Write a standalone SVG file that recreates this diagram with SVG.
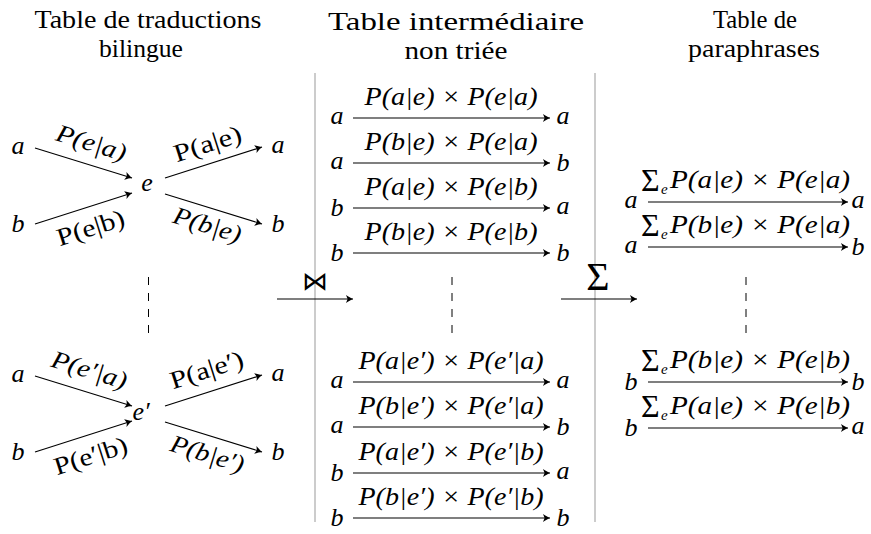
<svg xmlns="http://www.w3.org/2000/svg" width="871" height="534" viewBox="0 0 871 534">
<defs>
<marker id="ah" markerUnits="userSpaceOnUse" markerWidth="12" markerHeight="12" viewBox="-9 -6 12 12" refX="0" refY="0" orient="auto">
<path d="M0,0 C-2,-0.8 -4.5,-2.3 -7,-4 L-5.4,0 L-7,4 C-4.5,2.3 -2,0.8 0,0 Z" fill="#000"/>
</marker>
<style>
.t{font-family:"Liberation Serif",serif;font-size:26px;fill:#000;text-anchor:middle}
.m{font-family:"Liberation Serif","DejaVu Serif",serif;font-size:25px;font-style:italic;fill:#000}
.u{font-family:"Liberation Serif","DejaVu Serif",serif;font-size:25px;font-style:normal;fill:#000}
.n{font-family:"Liberation Serif",serif;font-size:26px;font-style:italic;fill:#000;text-anchor:middle}
.c{text-anchor:middle}
.ln{stroke:#000;stroke-width:1.1;fill:none;marker-end:url(#ah)}
.gr{stroke:#aaa;stroke-width:1.2}
.da{stroke:#000;stroke-width:1;stroke-dasharray:8 8}
.sg{font-family:"Liberation Serif",serif;font-size:32px;fill:#000}
.sb{font-family:"Liberation Serif",serif;font-size:15px;font-style:italic;fill:#000}
</style>
</defs>
<rect width="871" height="534" fill="#fff"/>

<g id="titles">
<text class="t" x="148" y="28" textLength="227" lengthAdjust="spacingAndGlyphs">Table de traductions</text>
<text class="t" x="141" y="57" textLength="84" lengthAdjust="spacingAndGlyphs">bilingue</text>
<text class="t" x="456" y="30" textLength="256" lengthAdjust="spacingAndGlyphs">Table intermédiaire</text>
<text class="t" x="456" y="59" textLength="103" lengthAdjust="spacingAndGlyphs">non triée</text>
<text class="t" x="755" y="28" textLength="84" lengthAdjust="spacingAndGlyphs">Table de</text>
<text class="t" x="754" y="57" textLength="132" lengthAdjust="spacingAndGlyphs">paraphrases</text>
</g>

<g id="separators">
<line class="gr" x1="315" y1="73" x2="315" y2="522"/>
<line class="gr" x1="595" y1="73" x2="595" y2="522"/>
<line class="da" x1="148.5" y1="277" x2="148.5" y2="335"/>
<line class="da" x1="452" y1="277" x2="452" y2="335"/>
<line class="da" x1="746" y1="277" x2="746" y2="335"/>
</g>

<g id="connectors">
<line class="ln" x1="35" y1="148" x2="132" y2="178"/>
<line class="ln" x1="35" y1="224" x2="132" y2="193"/>
<line class="ln" x1="165" y1="178" x2="262" y2="147"/>
<line class="ln" x1="165" y1="194" x2="262" y2="224"/>
<line class="ln" x1="35" y1="376" x2="132" y2="406"/>
<line class="ln" x1="35" y1="452" x2="132" y2="421"/>
<line class="ln" x1="165" y1="406" x2="262" y2="375"/>
<line class="ln" x1="165" y1="422" x2="262" y2="452"/>
<line class="ln" x1="277" y1="299" x2="353" y2="299"/>
<line class="ln" x1="561" y1="299" x2="637" y2="299"/>
<line class="ln" x1="353" y1="118" x2="550" y2="118"/>
<line class="ln" x1="353" y1="163" x2="550" y2="163"/>
<line class="ln" x1="353" y1="208" x2="550" y2="208"/>
<line class="ln" x1="353" y1="253" x2="550" y2="253"/>
<line class="ln" x1="353" y1="382" x2="550" y2="382"/>
<line class="ln" x1="353" y1="427" x2="550" y2="427"/>
<line class="ln" x1="353" y1="473" x2="550" y2="473"/>
<line class="ln" x1="353" y1="518" x2="550" y2="518"/>
<line class="ln" x1="648" y1="202" x2="848" y2="202"/>
<line class="ln" x1="648" y1="247" x2="848" y2="247"/>
<line class="ln" x1="648" y1="382" x2="848" y2="382"/>
<line class="ln" x1="648" y1="428" x2="848" y2="428"/>
</g>

<g id="ops">
<text x="315" y="290" style="font-family:'DejaVu Sans',sans-serif;font-size:26px" text-anchor="middle">⋈</text>
<text x="598" y="290" style="font-family:'Liberation Serif',serif;font-size:40px" text-anchor="middle">Σ</text>
</g>

<g id="bilingual-top">
<text class="n" x="18" y="154">a</text>
<text class="n" x="18" y="232">b</text>
<text class="n" x="147" y="191">e</text>
<text class="n" x="278" y="153">a</text>
<text class="n" x="278" y="232">b</text>
<text class="m c" transform="translate(91,144) rotate(17.2)" x="0" y="7" textLength="72" lengthAdjust="spacingAndGlyphs">P(e|a)</text>
<text class="u c" transform="translate(208,145) rotate(-17.7)" x="0" y="7" textLength="70" lengthAdjust="spacingAndGlyphs">P(a|e)</text>
<text class="u c" transform="translate(91,229) rotate(-17.7)" x="0" y="7" textLength="70" lengthAdjust="spacingAndGlyphs">P(e|b)</text>
<text class="m c" transform="translate(207,226) rotate(17.2)" x="0" y="7" textLength="70" lengthAdjust="spacingAndGlyphs">P(b|e)</text>
</g>

<g id="bilingual-bottom">
<text class="n" x="18" y="382">a</text>
<text class="n" x="18" y="460">b</text>
<text class="n" x="141" y="420" text-anchor="start">e′</text>
<text class="n" x="278" y="381">a</text>
<text class="n" x="278" y="460">b</text>
<text class="m c" transform="translate(89,371) rotate(17.2)" x="0" y="7" textLength="78" lengthAdjust="spacingAndGlyphs">P(e′|a)</text>
<text class="u c" transform="translate(207,371) rotate(-17.7)" x="0" y="7" textLength="76" lengthAdjust="spacingAndGlyphs">P(a|e′)</text>
<text class="u c" transform="translate(91,457) rotate(-17.7)" x="0" y="7" textLength="76" lengthAdjust="spacingAndGlyphs">P(e′|b)</text>
<text class="m c" transform="translate(207,455) rotate(17.2)" x="0" y="7" textLength="76" lengthAdjust="spacingAndGlyphs">P(b|e′)</text>
</g>

<g id="intermediate-top">
<text class="n" x="337" y="124">a</text><text class="m c" x="451" y="105" textLength="173" lengthAdjust="spacingAndGlyphs">P(a|e) × P(e|a)</text><text class="n" x="563" y="124">a</text>
<text class="n" x="337" y="169">a</text><text class="m c" x="451" y="150" textLength="173" lengthAdjust="spacingAndGlyphs">P(b|e) × P(e|a)</text><text class="n" x="563" y="171">b</text>
<text class="n" x="337" y="216">b</text><text class="m c" x="451" y="195" textLength="173" lengthAdjust="spacingAndGlyphs">P(a|e) × P(e|b)</text><text class="n" x="563" y="214">a</text>
<text class="n" x="337" y="261">b</text><text class="m c" x="451" y="240" textLength="173" lengthAdjust="spacingAndGlyphs">P(b|e) × P(e|b)</text><text class="n" x="563" y="261">b</text>
</g>

<g id="intermediate-bottom">
<text class="n" x="337" y="388">a</text><text class="m c" x="451" y="369" textLength="185" lengthAdjust="spacingAndGlyphs">P(a|e′) × P(e′|a)</text><text class="n" x="563" y="388">a</text>
<text class="n" x="337" y="433">a</text><text class="m c" x="451" y="414" textLength="185" lengthAdjust="spacingAndGlyphs">P(b|e′) × P(e′|a)</text><text class="n" x="563" y="435">b</text>
<text class="n" x="337" y="481">b</text><text class="m c" x="451" y="460" textLength="185" lengthAdjust="spacingAndGlyphs">P(a|e′) × P(e′|b)</text><text class="n" x="563" y="479">a</text>
<text class="n" x="337" y="526">b</text><text class="m c" x="451" y="505" textLength="185" lengthAdjust="spacingAndGlyphs">P(b|e′) × P(e′|b)</text><text class="n" x="563" y="526">b</text>
</g>

<g id="paraphrase-top">
<text class="n" x="631" y="208">a</text>
<text class="sg" x="641" y="191">Σ</text><text class="sb" x="661" y="194">e</text>
<text class="m c" x="760" y="188" textLength="180" lengthAdjust="spacingAndGlyphs">P(a|e) × P(e|a)</text>
<text class="n" x="858" y="208">a</text>
<text class="n" x="631" y="253">a</text>
<text class="sg" x="641" y="236">Σ</text><text class="sb" x="661" y="239">e</text>
<text class="m c" x="760" y="233" textLength="180" lengthAdjust="spacingAndGlyphs">P(b|e) × P(e|a)</text>
<text class="n" x="858" y="255">b</text>
</g>

<g id="paraphrase-bottom">
<text class="n" x="631" y="390">b</text>
<text class="sg" x="641" y="371">Σ</text><text class="sb" x="661" y="374">e</text>
<text class="m c" x="760" y="368" textLength="180" lengthAdjust="spacingAndGlyphs">P(b|e) × P(e|b)</text>
<text class="n" x="858" y="390">b</text>
<text class="n" x="631" y="436">b</text>
<text class="sg" x="641" y="417">Σ</text><text class="sb" x="661" y="420">e</text>
<text class="m c" x="760" y="414" textLength="180" lengthAdjust="spacingAndGlyphs">P(a|e) × P(e|b)</text>
<text class="n" x="858" y="434">a</text>
</g>
</svg>
